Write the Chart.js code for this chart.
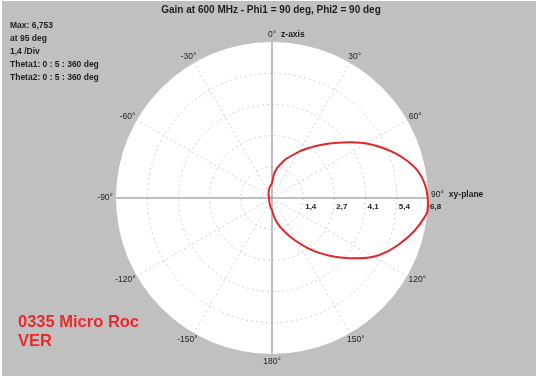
<!DOCTYPE html>
<html>
<head>
<meta charset="utf-8">
<script src="https://cdn.jsdelivr.net/npm/chart.js@4.4.1/dist/chart.umd.min.js"></script>
<style>
  html, body { margin: 0; padding: 0; background: #fff; }
</style>
</head>
<body>
<canvas id="polarChart" width="540" height="380"></canvas>
<script>
(function () {
    'use strict';

    // theta in 5 deg steps, 0 = z-axis (top), 90 = xy-plane (right)
    var thetaDeg = [];
    for (var a = 0; a < 360; a += 5) thetaDeg.push(a);

    // gain, one value per theta step
    var gain = [
        0.65, 1.05, 1.33, 1.56, 1.80, 2.03, 2.31, 2.60, 2.94, 3.31, 3.72, 4.20, 4.72, 5.20, 5.67, 6.10, 6.45, 6.65,
        6.74, 6.753, 6.50, 6.20, 5.85, 5.50, 5.08, 4.55, 4.02, 3.53, 3.07, 2.62, 2.20, 1.84, 1.52, 1.26, 1.00, 0.75,
        0.52, 0.45, 0.38, 0.32, 0.28, 0.25, 0.22, 0.20, 0.18, 0.17, 0.16, 0.15, 0.14, 0.14, 0.13, 0.13, 0.13, 0.13,
        0.13, 0.13, 0.13, 0.14, 0.14, 0.15, 0.16, 0.17, 0.19, 0.21, 0.23, 0.26, 0.29, 0.33, 0.38, 0.44, 0.50, 0.57
    ];

    var ringValues = [1.35, 2.70, 4.05, 5.40, 6.753];
    var ringLabels = ['1,4', '2,7', '4,1', '5,4', '6,8'];
    var spokeLabels = ['0°', '30°', '60°', '90°', '120°', '150°', '180°', '-150°', '-120°', '-90°', '-60°', '-30°'];

    var title = 'Gain at 600 MHz - Phi1 = 90 deg, Phi2 = 90 deg';
    var infoLines = ['Max: 6,753', 'at 95 deg', '1,4 /Div', 'Theta1: 0 : 5 : 360 deg', 'Theta2: 0 : 5 : 360 deg'];
    var modelLines = ['0335 Micro Roc', 'VER'];

    var FONT = '"Liberation Sans", Arial, sans-serif';

    var backdrop = {
        id: 'backdrop',
        beforeDraw: function (chart) {
            var c = chart.ctx;
            c.save();
            c.fillStyle = '#ffffff';
            c.fillRect(0, 0, chart.width, chart.height);
            c.fillStyle = '#c0c0c0';
            c.fillRect(2, 1, 534, 375);
            c.restore();
        }
    };

    var annotations = {
        id: 'annotations',
        afterDraw: function (chart) {
            var c = chart.ctx;
            var r = chart.scales.r;
            c.save();
            c.fillStyle = '#1e1e1e';
            c.textBaseline = 'middle';

            // title
            c.font = 'bold 10px ' + FONT;
            c.textAlign = 'center';
            c.fillText(title, 271, 10);

            // info block
            c.font = 'bold 8.5px ' + FONT;
            c.textAlign = 'left';
            infoLines.forEach(function (t, i) {
                c.fillText(t, 10, 26 + i * 12.8);
            });

            // spoke labels outside the circle
            c.font = '8.5px ' + FONT;
            c.textAlign = 'center';
            var spokeStep = thetaDeg.length / spokeLabels.length;
            var ends = {};
            spokeLabels.forEach(function (t, i) {
                var ang = i * 30 * Math.PI / 180;
                var p = r.getPointPosition(i * spokeStep, r.drawingArea + 3);
                var w = c.measureText(t).width;
                var x = p.x + Math.sin(ang) * w / 2;
                var y = p.y - Math.cos(ang) * 4.5;
                if (i === 3) y -= 3;
                c.fillText(t, x, y);
                ends[i] = { right: x + w / 2, y: y };
            });

            // axis names
            c.font = 'bold 8.5px ' + FONT;
            c.textAlign = 'left';
            c.fillText('z-axis', ends[0].right + 5, ends[0].y);
            c.fillText('xy-plane', ends[3].right + 5, ends[3].y);

            // ring values along the xy-plane
            c.font = 'bold 8px ' + FONT;
            ringValues.forEach(function (v, i) {
                var d = r.getDistanceFromCenterForValue(v);
                c.fillText(ringLabels[i], r.xCenter + d + 2, r.yCenter + 9);
            });

            // model name
            c.fillStyle = '#e52b2b';
            c.font = 'bold 16.5px ' + FONT;
            modelLines.forEach(function (t, i) {
                c.fillText(t, 18, 322 + i * 19);
            });
            c.restore();
        }
    };

    new Chart(document.getElementById('polarChart').getContext('2d'), {
        type: 'radar',
        data: {
            labels: thetaDeg,
            datasets: [{
                label: 'Gain',
                data: gain,
                borderColor: '#e3262b',
                backgroundColor: 'rgba(0,0,0,0)',
                borderWidth: 2,
                pointRadius: 0,
                tension: 0.25,
                fill: false
            }]
        },
        options: {
            responsive: false,
            animation: false,
            layout: { padding: { left: 116, right: 112, top: 42, bottom: 26 } },
            plugins: {
                legend: { display: false },
                tooltip: { enabled: false }
            },
            scales: {
                r: {
                    min: 0,
                    max: 6.753,
                    backgroundColor: '#ffffff',
                    afterBuildTicks: function (scale) {
                        scale.ticks = [0].concat(ringValues).map(function (v) { return { value: v }; });
                    },
                    ticks: { display: false },
                    pointLabels: { display: false },
                    grid: {
                        circular: true,
                        lineWidth: 1,
                        color: function (ctx) {
                            return ctx.index === ringValues.length ? 'rgba(0,0,0,0)' : '#d0d0d0';
                        }
                    },
                    border: { dash: [2, 3] },
                    angleLines: {
                        color: function (ctx) {
                            return ctx.index % 18 === 0 ? '#808080' : '#d0d0d0';
                        },
                        lineWidth: function (ctx) {
                            return ctx.index % 6 === 0 ? 1 : 0;
                        },
                        borderDash: function (ctx) {
                            return ctx.index % 18 === 0 ? [] : [2, 3];
                        }
                    }
                }
            }
        },
        plugins: [backdrop, annotations]
    });
})();
</script>
</body>
</html>
